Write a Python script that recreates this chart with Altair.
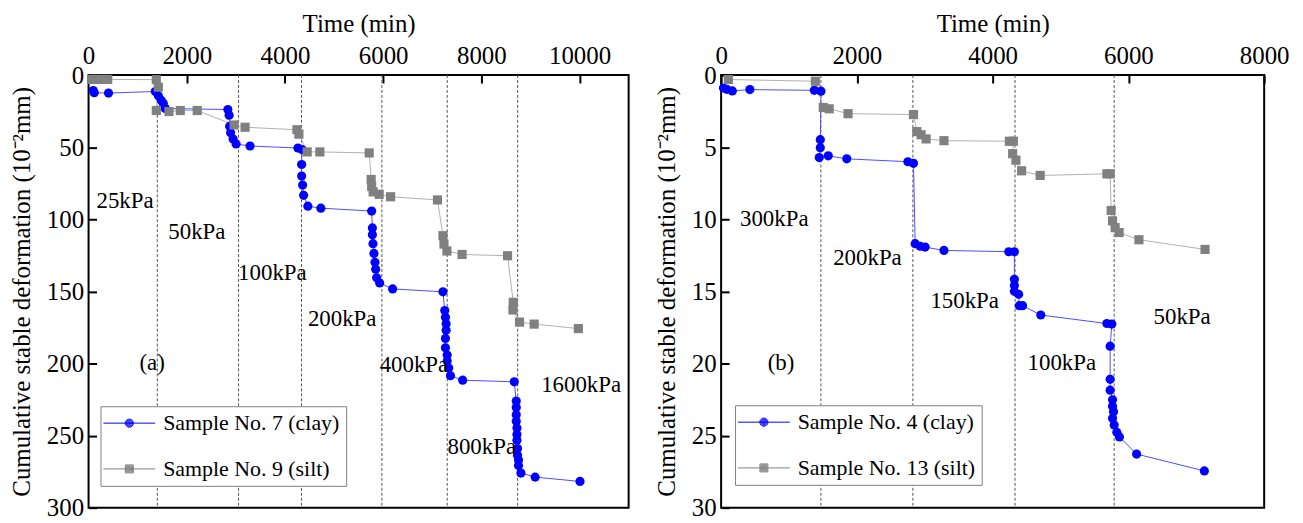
import altair as alt
import pandas as pd

FONT = "Liberation Serif"
BLUE = "#0000ff"
GRAY = "#808080"
BLUE_LINE = "#4d4dff"
GRAY_LINE = "#b0b0b0"
PAD = "\u2007\u2007"  # figure spaces that widen the legend frame like the original

# ---------------- panel (a) ----------------
names_a = ["Sample No. 7 (clay)" + PAD, "Sample No. 9 (silt)" + PAD]
t7 = [95, 116, 406, 1360, 1421, 1482, 1523, 1563, 2837, 2863, 2873, 2893, 2944, 3005, 3289,
      4264, 4345, 4340, 4340, 4360, 4380, 4467, 4731, 5766, 5781, 5781, 5793, 5813, 5834, 5848,
      5868, 5929, 6193, 7218, 7255, 7269, 7283, 7283, 7269, 7269, 7304, 7304, 7336, 7371, 7620,
      8670, 8711, 8711, 8711, 8711, 8725, 8725, 8725, 8737, 8737, 8757, 8757, 8806, 9096, 10010]
d7 = [10.7, 12.3, 12.5, 11.4, 14.4, 17.6, 19.8, 23.2, 23.9, 27.8, 35.5, 40.0, 44.4, 47.8, 49.2,
      50.6, 51.7, 62.0, 70.0, 76.3, 83.4, 90.9, 92.3, 94.3, 106.0, 110.7, 116.9, 123.7, 129.8, 134.6,
      140.6, 144.2, 148.3, 150.3, 163.3, 167.9, 172.4, 177.0, 182.7, 189.1, 194.1, 198.2, 203.2, 208.5, 211.6,
      212.7, 226.0, 230.5, 235.5, 240.0, 244.7, 249.2, 253.3, 259.0, 263.6, 267.0, 270.8, 276.0, 278.8, 281.8]
t9 = [60, 150, 270, 390, 1380, 1421, 1380, 1638, 1868, 2213, 2964, 3188, 4244, 4284, 4453, 4711,
      5716, 5756, 5766, 5797, 5919, 6152, 7107, 7218, 7239, 7299, 7608, 8534, 8650, 8644, 8778, 9076, 9976]
d9 = [3.0, 3.0, 3.0, 3.0, 3.2, 8.4, 24.6, 25.3, 24.6, 24.6, 34.6, 36.2, 37.9, 41.0, 53.3, 53.3,
      54.0, 72.4, 77.2, 81.0, 82.7, 84.4, 86.6, 111.4, 117.2, 122.0, 124.4, 125.3, 157.6, 162.9, 171.3, 172.7, 175.8]
stages_a = [1400, 3055, 4338, 5975, 7305, 8740]
lab_a_text = ["25kPa", "50kPa", "100kPa", "200kPa", "400kPa", "800kPa", "1600kPa", "(a)"]
lab_a_t = [162, 1624, 3046, 4467, 5929, 7310, 9218, 1036]
lab_a_d = [87.5, 109, 137, 169, 201, 258, 215, 199.5]
x_ticks_a = [0, 2000, 4000, 6000, 8000, 10000]
y_ticks_a = [0, 50, 100, 150, 200, 250, 300]

# ---------------- panel (b) ----------------
names_b = ["Sample No. 4 (clay)" + PAD, "Sample No. 13 (silt)" + PAD]
t4 = [34, 83, 165, 424, 1373, 1471, 1461, 1461, 1446, 1578, 1851, 2751, 2834, 2859, 2932, 3005, 3283,
      4237, 4320, 4320, 4320, 4320, 4383, 4393, 4441, 4709, 5683, 5756, 5731, 5731, 5731, 5766, 5766,
      5781, 5766, 5790, 5829, 5868, 6121, 7119]
d4 = [0.90, 0.99, 1.10, 1.01, 1.06, 1.12, 4.48, 5.04, 5.72, 5.60, 5.81, 6.01, 6.12, 11.69, 11.87, 11.93, 12.16,
      12.25, 12.25, 14.16, 14.60, 15.00, 15.20, 15.99, 15.99, 16.64, 17.23, 17.27, 18.80, 21.10, 21.85, 22.52, 22.97,
      23.35, 23.80, 24.26, 24.77, 25.09, 26.28, 27.45]
t13 = [107, 1388, 1505, 1592, 1870, 2834, 2883, 2946, 3020, 3283, 4247, 4305, 4295, 4343, 4427, 4700,
       5683, 5731, 5746, 5766, 5804, 5863, 6155, 7129]
d13 = [0.31, 0.43, 2.25, 2.34, 2.68, 2.74, 3.92, 4.14, 4.43, 4.55, 4.59, 4.59, 5.45, 5.90, 6.64, 6.96,
       6.85, 6.85, 9.39, 10.11, 10.58, 10.92, 11.42, 12.09]
stages_b = [1470, 2825, 4330, 5790]
lab_b_text = ["300kPa", "200kPa", "150kPa", "100kPa", "50kPa", "(b)"]
lab_b_t = [278, 1651, 3083, 4514, 6370, 687]
lab_b_d = [10.0, 12.67, 15.7, 19.96, 16.8, 19.95]
x_ticks_b = [0, 2000, 4000, 6000, 8000]
y_ticks_b = [0, 5, 10, 15, 20, 25, 30]

YTITLE = "Cumulative stable deformation (10\u207b\u00b2mm)"

UNIT = 10.0          # px per path unit (symbolSize = 400)
HALF_LINE = 26.0     # half length of legend line, px


def disc_path(r_px):
    L = HALF_LINE / UNIT
    parts = [f"M{-L:.3f},0H{L:.3f}"]
    r = r_px - 0.5
    while r > 0.15:
        u = r / UNIT
        parts.append(f"M{-u:.4f},0A{u:.4f},{u:.4f} 0 1,1 {u:.4f},0A{u:.4f},{u:.4f} 0 1,1 {-u:.4f},0Z")
        r -= 0.9
    return "".join(parts)


def square_path(h_px):
    L = HALF_LINE / UNIT
    parts = [f"M{-L:.3f},0H{L:.3f}"]
    h = h_px - 0.5
    while h > 0.15:
        u = h / UNIT
        parts.append(f"M{-u:.4f},{-u:.4f}H{u:.4f}V{u:.4f}H{-u:.4f}Z")
        h -= 0.9
    return "".join(parts)


def panel(names, series, stages, lab_text, lab_t, lab_d, xmax, xvals, ymax, yvals, w, h, lx, ly):
    rows = []
    for name, (t, d) in zip(names, series):
        for i, (a, b) in enumerate(zip(t, d)):
            rows.append({"s": name, "t": a, "d": b, "i": i})
    df = pd.DataFrame(rows)
    xs = alt.Scale(domain=[0, xmax], nice=False, zero=False)
    ys = alt.Scale(domain=[0, ymax], reverse=True, nice=False, zero=False)
    xa = alt.Axis(orient="top", title="Time (min)", values=xvals, format="d", grid=False,
                  domain=False, tickSize=8, tickWidth=2, tickColor="black", offset=-8,
                  labelFlush=False, labelOverlap=False, labelPadding=7, titlePadding=7,
                  labelFontSize=25, titleFontSize=25, labelColor="black", titleColor="black",
                  labelFont=FONT, titleFont=FONT, titleFontWeight="normal")
    ya = alt.Axis(orient="left", title=YTITLE, values=yvals, format="d", grid=False,
                  domain=False, tickSize=8, tickWidth=2, tickColor="black", offset=-8,
                  labelFlush=False, labelOverlap=False, labelPadding=5, titlePadding=12,
                  labelFontSize=25, titleFontSize=25, labelColor="black", titleColor="black",
                  labelFont=FONT, titleFont=FONT, titleFontWeight="normal")
    X = alt.X("t:Q", scale=xs, axis=xa)
    Y = alt.Y("d:Q", scale=ys, axis=ya)
    base = alt.Chart(df)
    layers = [
        alt.Chart(pd.DataFrame({"t": stages})).mark_rule(
            color="#555555", strokeDash=[3, 2], strokeWidth=1).encode(x=X)
    ]
    line_cols = [BLUE_LINE, GRAY_LINE]
    pt_cols = [BLUE, GRAY]
    shapes = ["circle", "square"]
    sizes = [85, 85]
    for name, lc in zip(names, line_cols):
        layers.append(base.transform_filter(alt.datum.s == name).mark_line(
            color=lc, strokeWidth=1).encode(x=X, y=Y, order="i:Q"))
    for name, pc, sh, sz in zip(names, pt_cols, shapes, sizes):
        layers.append(base.transform_filter(alt.datum.s == name).mark_point(
            filled=True, shape=sh, size=sz, color=pc, opacity=1).encode(x=X, y=Y))
    leg = alt.Legend(title=None, orient="none", legendX=lx, legendY=ly, fillColor="white",
                     strokeColor=GRAY, padding=6, labelFont=FONT, labelFontSize=22,
                     labelColor="black", symbolSize=UNIT * UNIT * 4, symbolStrokeWidth=1,
                     symbolOpacity=1, rowPadding=24, symbolOffset=12, labelOffset=23,
                     labelLimit=400)
    layers.append(base.mark_point(opacity=0, filled=False).encode(
        x=X, y=Y,
        color=alt.Color("s:N", scale=alt.Scale(domain=names, range=pt_cols), legend=leg),
        shape=alt.Shape("s:N", scale=alt.Scale(domain=names,
                                               range=[disc_path(4.6), square_path(4.5)]),
                        legend=leg)))
    ldf = pd.DataFrame({"txt": lab_text, "t": lab_t, "d": lab_d})
    layers.append(alt.Chart(ldf).mark_text(align="left", baseline="middle", font=FONT,
                                           fontSize=23, color="black").encode(x=X, y=Y, text="txt:N"))
    return alt.layer(*layers).properties(width=w, height=h)


pa = panel(names_a, [(t7, d7), (t9, d9)], stages_a, lab_a_text, lab_a_t, lab_a_d,
           11000, x_ticks_a, 300, y_ticks_a, 543, 435, 12, 333)
pb = panel(names_b, [(t4, d4), (t13, d13)], stages_b, lab_b_text, lab_b_t, lab_b_d,
           8000, x_ticks_b, 30, y_ticks_b, 546, 435, 14, 332)

chart = (alt.hconcat(pa, pb, spacing=24)
         .resolve_scale(color="independent", shape="independent")
         .resolve_legend(color="independent", shape="independent")
         .properties(padding={"left": 0, "top": 1, "right": 5, "bottom": 5})
         .configure_view(stroke="black", strokeWidth=2))

chart.save("out.html", embed_options={"renderer": "svg", "actions": False})
